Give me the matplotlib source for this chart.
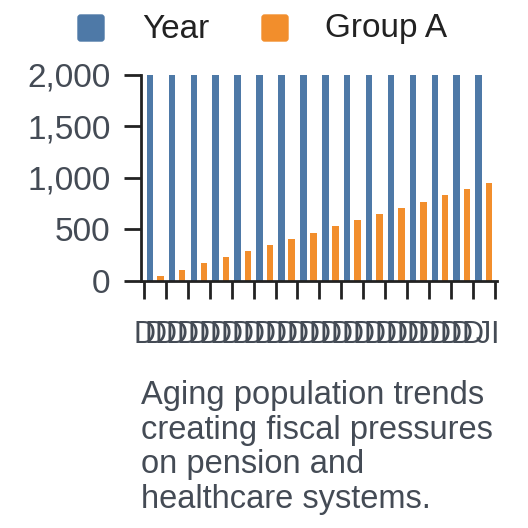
import matplotlib
matplotlib.use("Agg")
import matplotlib.pyplot as plt
from matplotlib.patches import FancyBboxPatch
import numpy as np

plt.rcParams['font.family'] = ['Liberation Sans', 'DejaVu Sans']

# Daten
year = [2009, 2010, 2011, 2012, 2013, 2014, 2015, 2016,
        2017, 2018, 2019, 2020, 2021, 2022, 2023, 2024]
group_a = [50, 110, 170, 230, 290, 350, 410, 470,
           530, 590, 650, 710, 770, 830, 890, 950]
tick_labels = ["D"] * 16 + ["I"]
mid_labels = ["D"] * 15 + ["J"]
yticks = [0, 500, 1000, 1500, 2000]
caption = "Aging population trends\ncreating fiscal pressures\non pension and\nhealthcare systems."

blau = "#4e79a7"
orange = "#f28e2c"
text_col = "#444b55"
achse = "#222222"

fig = plt.figure(figsize=(5.28, 5.28), dpi=100)
ax = fig.add_axes([0.267, 0.468, 0.674, 0.39])

x = np.arange(len(year))
w = 0.3
ax.bar(x - 0.23, year, w, color=blau)
ax.bar(x + 0.24, group_a, w, color=orange)

ax.set_ylim(0, 2000)
ax.set_xlim(-0.64, 15.6)

ax.set_yticks(yticks)
ax.set_yticklabels([f"{v:,}" for v in yticks], fontsize=24, color=text_col)

# Ticks an den Gruppengrenzen, zusaetzliche Labels in der Mitte
ax.set_xticks(np.arange(len(year) + 1) - 0.5)
ax.set_xticklabels(tick_labels, fontsize=22, color=text_col)
ax.set_xticks(x, minor=True)
ax.set_xticklabels(mid_labels, minor=True, fontsize=22, color=text_col)

ax.tick_params(axis="y", length=12, width=2, color=achse, pad=10)
ax.tick_params(axis="x", which="major", length=13, width=2, color=achse, pad=15)
ax.tick_params(axis="x", which="minor", length=0, pad=28)

for s in ["top", "right"]:
    ax.spines[s].set_visible(False)
for s in ["left", "bottom"]:
    ax.spines[s].set_linewidth(2)
    ax.spines[s].set_color(achse)

# Legende
for xp, col, lab, tx in [(78, blau, "Year", 142), (262, orange, "Group A", 325)]:
    fig.patches.append(FancyBboxPatch((xp / 528, 1 - 41 / 528), 26 / 528, 26 / 528,
                                      boxstyle="round,pad=0,rounding_size=0.005",
                                      transform=fig.transFigure, color=col))
    fig.text(tx / 528, 1 - 29 / 528, lab, fontsize=24, color="#222222",
             va="center", ha="left")

fig.text(141 / 528, 1 - 380 / 528, caption, fontsize=23.5, color=text_col,
         va="top", ha="left", linespacing=1.15)

fig.savefig("out.png", dpi=100)
